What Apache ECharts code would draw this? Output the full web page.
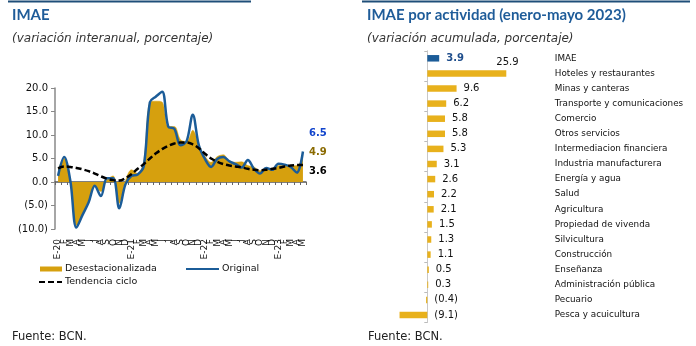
<!DOCTYPE html>
<html>
<head>
<meta charset="utf-8">
<script src="https://cdn.jsdelivr.net/npm/echarts@6/dist/echarts.min.js"></script>
<style>
  html, body { margin: 0; padding: 0; background: #fff; }
  #chart { width: 696px; height: 346px; }
</style>
</head>
<body>
<div id="chart"></div>
<script>
// Monthly axis, January 2020 to May 2023
const months = [
  'E-20','F','M','A','M','J','J','A','S','O','N','D',
  'E-21','F','M','A','M','J','J','A','S','O','N','D',
  'E-22','F','M','A','M','J','J','A','S','O','N','D',
  'E-23','F','M','A','M'
];

// IMAE, year-on-year change (%)
const desestacionalizada = [
  2.8, 5.0, 0.5, -9.2, -7.0, -4.0, -1.0, -2.0, 0.5, 1.3, -4.5, 0.2,
  2.6, 1.8, 4.5, 17.0, 17.2, 17.0, 11.8, 11.8, 9.0, 8.6, 11.0, 7.8,
  5.5, 4.2, 5.4, 5.8, 4.4, 4.2, 4.3, 3.5, 3.2, 2.4, 2.7, 2.8,
  3.5, 3.5, 3.4, 3.5, 4.9
];
const original = [
  1.3, 5.3, 0.3, -9.7, -7.0, -4.3, -0.8, -3.0, 0.8, 0.8, -5.6, -0.5,
  1.3, 1.6, 3.4, 17.0, 18.2, 19.2, 11.8, 11.3, 7.8, 8.7, 14.3, 7.8,
  4.9, 3.2, 4.9, 5.3, 4.4, 3.8, 3.1, 4.7, 2.8, 1.8, 3.0, 2.6,
  3.9, 3.7, 3.2, 2.0, 6.5
];
const tendenciaCiclo = [
  2.9, 3.3, 3.2, 3.0, 2.7, 2.3, 1.8, 1.2, 0.7, 0.4, 0.3, 0.8,
  1.7, 2.8, 3.8, 5.0, 6.1, 7.0, 7.7, 8.2, 8.4, 8.4, 8.0, 7.2,
  6.0, 5.0, 4.3, 3.8, 3.5, 3.3, 3.1, 2.8, 2.6, 2.5, 2.6, 2.8,
  3.0, 3.3, 3.5, 3.6, 3.6
];

// IMAE by activity, January-May 2023, cumulative change (%)
const actividades = [
  'IMAE', 'Hoteles y restaurantes', 'Minas y canteras', 'Transporte y comunicaciones',
  'Comercio', 'Otros servicios', 'Intermediacion financiera', 'Industria manufacturera',
  'Energía y agua', 'Salud', 'Agricultura', 'Propiedad de vivenda', 'Silvicultura',
  'Construcción', 'Enseñanza', 'Administración pública', 'Pecuario', 'Pesca y acuicultura'
];
const variacionAcumulada = [
  3.9, 25.9, 9.6, 6.2, 5.8, 5.8, 5.3, 3.1, 2.6, 2.2, 2.1, 1.5, 1.3, 1.1, 0.5, 0.3, -0.4, -9.1
];

const FONT = 'DejaVu Sans';
const GOLD_AREA = '#D6A00E';
const GOLD_BAR = '#E8B11C';
const BLUE = '#1B5C98';
const TITLE_BLUE = '#1F5C99';

const fmt = v => v < 0 ? '(' + Math.abs(v).toFixed(1) + ')' : v.toFixed(1);

const barData = variacionAcumulada.map((v, i) => {
  if (i === 0) {
    return {
      value: v,
      itemStyle: { color: BLUE },
      label: { color: '#1F4E8C', fontWeight: 'bold' }
    };
  }
  if (i === 1) {
    return { value: v, label: { offset: [-17, -11] } };
  }
  return v;
});

const legendText = { fontFamily: FONT, fontSize: 9.5, color: '#111', padding: [0, 0, 0, -2] };

const chart = echarts.init(document.getElementById('chart'), null, { renderer: 'canvas' });

chart.setOption({
  animation: false,
  textStyle: { fontFamily: FONT },
  title: [
    {
      text: 'IMAE',
      subtext: '(variación interanual, porcentaje)',
      left: 8, top: 8, padding: [0, 4], itemGap: 10,
      textStyle: { fontFamily: 'Lato', fontWeight: 'bold', fontSize: 15, color: TITLE_BLUE },
      subtextStyle: { fontFamily: FONT, fontStyle: 'italic', fontSize: 12, color: '#333' }
    },
    {
      text: 'IMAE por actividad (enero-mayo 2023)',
      subtext: '(variación acumulada, porcentaje)',
      left: 363, top: 8, padding: [0, 4], itemGap: 10,
      textStyle: { fontFamily: 'Lato', fontWeight: 'bold', fontSize: 15, color: TITLE_BLUE },
      subtextStyle: { fontFamily: FONT, fontStyle: 'italic', fontSize: 12, color: '#333' }
    },
    {
      text: 'Fuente: BCN.',
      left: 8, top: 331, padding: [0, 4],
      textStyle: { fontFamily: FONT, fontWeight: 'normal', fontSize: 11.5, color: '#222' }
    },
    {
      text: 'Fuente: BCN.',
      left: 364, top: 331, padding: [0, 4],
      textStyle: { fontFamily: FONT, fontWeight: 'normal', fontSize: 11.5, color: '#222' }
    }
  ],
  graphic: [
    { type: 'line', shape: { x1: 8, y1: 1.5, x2: 251, y2: 1.5 }, style: { stroke: '#1F4E79', lineWidth: 2 } },
    { type: 'line', shape: { x1: 362, y1: 1.5, x2: 690, y2: 1.5 }, style: { stroke: '#1F4E79', lineWidth: 2 } }
  ],
  legend: [
    {
      data: [{ name: 'Desestacionalizada', icon: 'rect' }],
      left: 40, top: 264, padding: 0, itemWidth: 22, itemHeight: 5,
      textStyle: legendText
    },
    {
      data: ['Original'],
      left: 185, top: 264, padding: 0, itemWidth: 33, itemHeight: 5,
      itemStyle: { opacity: 0 },
      textStyle: legendText
    },
    {
      data: ['Tendencia ciclo'],
      left: 38, top: 277, padding: 0, itemWidth: 23, itemHeight: 5,
      itemStyle: { opacity: 0 },
      textStyle: legendText
    }
  ],
  grid: [
    { left: 55, top: 88, width: 251, height: 141 },
    { left: 396.8, top: 50.75, width: 122, height: 271.8 }
  ],
  xAxis: [
    {
      gridIndex: 0, type: 'category', data: months, boundaryGap: true,
      axisLine: { onZero: true, lineStyle: { color: '#555', width: 1.5 } },
      axisTick: { show: true, interval: 0, length: 3, lineStyle: { color: '#666' } },
      axisLabel: { interval: 0, rotate: 90, margin: 10, fontSize: 9, color: '#111' },
      splitLine: { show: false }
    },
    { gridIndex: 1, type: 'value', min: -10, max: 30, show: false }
  ],
  yAxis: [
    {
      gridIndex: 0, type: 'value', min: -10, max: 20, interval: 5,
      axisLine: { show: true, lineStyle: { color: '#888', width: 1.5 } },
      axisTick: { show: true, length: 4, lineStyle: { color: '#888' } },
      axisLabel: { formatter: fmt, fontSize: 10, margin: 7, color: '#111' },
      splitLine: { show: false }
    },
    {
      gridIndex: 1, type: 'category', data: actividades, inverse: true,
      axisLine: { show: true, onZero: true, lineStyle: { color: '#c8c8c8', width: 1 } },
      axisTick: { show: true, length: 3, lineStyle: { color: '#bbb' } },
      axisLabel: { show: false }
    },
    {
      gridIndex: 1, type: 'category', data: actividades, inverse: true, position: 'right',
      axisLine: { show: false, onZero: false },
      axisTick: { show: false },
      axisLabel: { margin: 36, align: 'left', fontSize: 8.8, color: '#111' }
    }
  ],
  series: [
    {
      name: 'Desestacionalizada', type: 'line', xAxisIndex: 0, yAxisIndex: 0,
      data: desestacionalizada, smooth: 0.35, symbol: 'none', color: GOLD_AREA,
      lineStyle: { width: 0.5, color: GOLD_AREA },
      areaStyle: { color: GOLD_AREA, opacity: 1 },
      endLabel: {
        show: true, formatter: p => fmt(p.value), distance: 6, offset: [0, -7],
        fontFamily: FONT, fontWeight: 'bold', fontSize: 10, color: '#8A6A00'
      }
    },
    {
      name: 'Original', type: 'line', xAxisIndex: 0, yAxisIndex: 0,
      data: original, smooth: 0.35, symbol: 'none', color: BLUE,
      lineStyle: { width: 2.5, color: BLUE },
      endLabel: {
        show: true, formatter: p => fmt(p.value), distance: 6, offset: [0, -18],
        fontFamily: FONT, fontWeight: 'bold', fontSize: 10, color: '#1144CC'
      }
    },
    {
      name: 'Tendencia ciclo', type: 'line', xAxisIndex: 0, yAxisIndex: 0,
      data: tendenciaCiclo, smooth: 0.35, symbol: 'none', color: '#000',
      lineStyle: { width: 2.5, color: '#000', type: [6, 3] },
      endLabel: {
        show: true, formatter: p => fmt(p.value), distance: 6, offset: [0, 6],
        fontFamily: FONT, fontWeight: 'bold', fontSize: 10, color: '#000'
      }
    },
    {
      name: 'IMAE por actividad', type: 'bar', xAxisIndex: 1, yAxisIndex: 1,
      data: barData, barWidth: 6.5,
      itemStyle: { color: GOLD_BAR },
      label: {
        show: true, position: 'right', distance: 7,
        formatter: p => fmt(p.value), fontFamily: FONT, fontSize: 10, color: '#111'
      }
    }
  ]
});
</script>
</body>
</html>
